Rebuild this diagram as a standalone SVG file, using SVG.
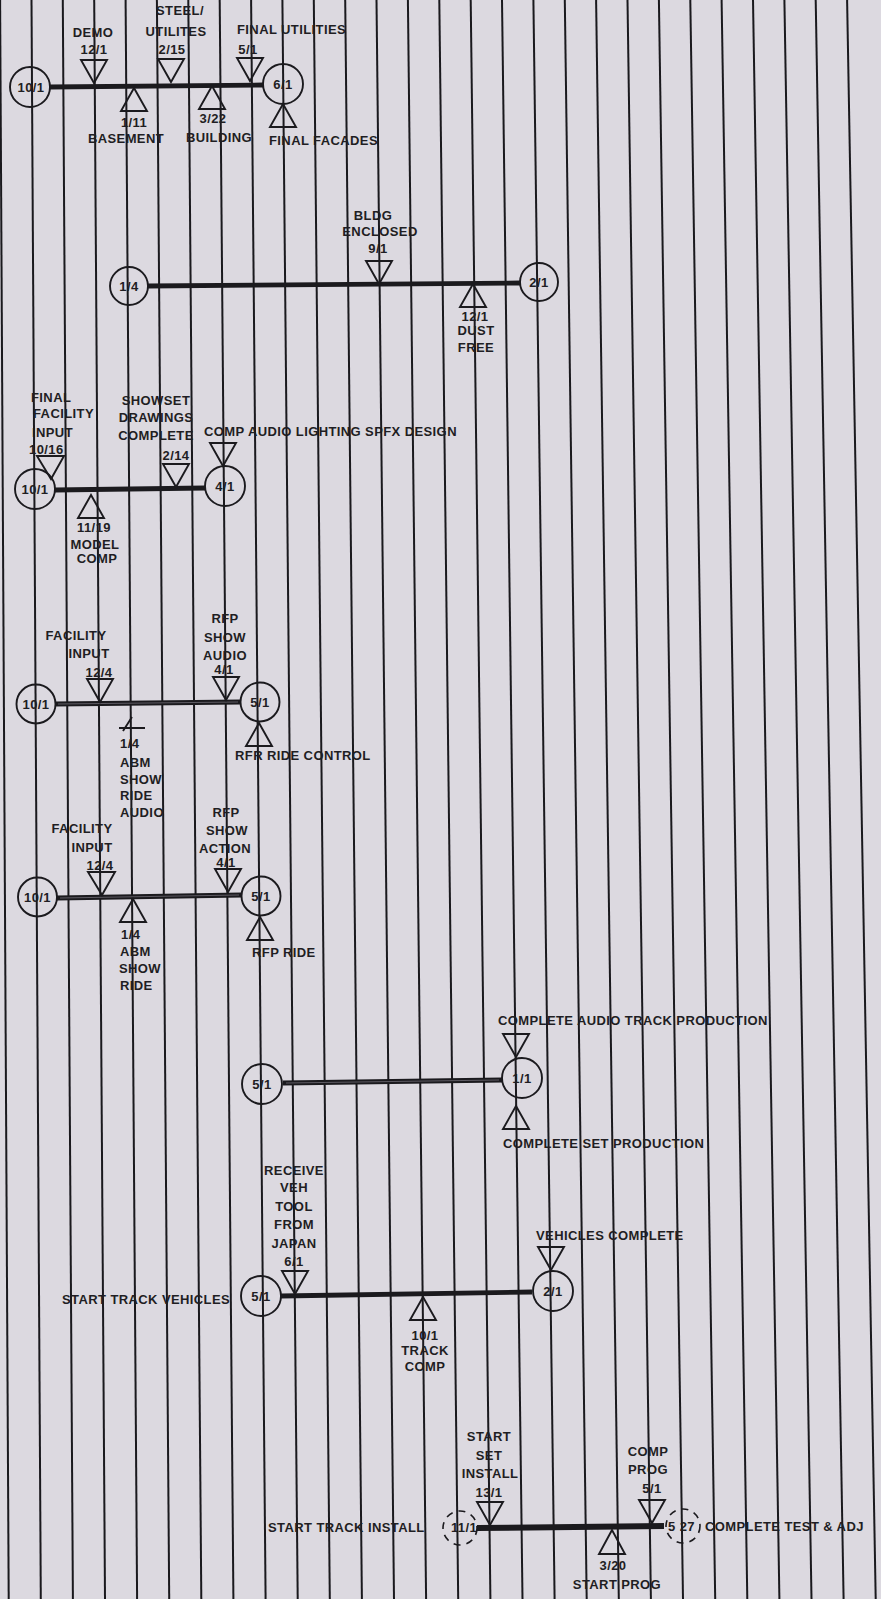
<svg xmlns="http://www.w3.org/2000/svg" width="881" height="1599" viewBox="0 0 881 1599">
  <style>
    .bg { fill: #dcd9e0; }
    .grid line { stroke: #1a191d; stroke-width: 2; }
    .bar { stroke: #1b1a1e; stroke-width: 4.8; stroke-linecap: butt; fill: none; }
    .bar.heavy { stroke-width: 6; }
    .core { stroke: #5d5a62; stroke-width: 1.2; fill: none; }
    .ev { fill: none; stroke: #1b1a1e; stroke-width: 1.9; }
    .ev.dash { stroke-dasharray: 7 6; stroke-width: 1.6; }
    .ms { fill: none; stroke: #1b1a1e; stroke-width: 1.9; stroke-linejoin: miter; }
    text { font-family: "Liberation Sans", Arial, sans-serif; font-size: 13px; font-weight: bold; letter-spacing: 0.4px; fill: #1f1e23; }
    .c { text-anchor: middle; }
  </style>

  <rect class="bg" x="0" y="0" width="881" height="1599"/>

  <!-- vertical ruling of the schedule sheet -->
  <g class="grid">
    <line x1="0.1" y1="0" x2="8.7" y2="1599"/>
    <line x1="31.5" y1="0" x2="40.8" y2="1599"/>
    <line x1="62.8" y1="0" x2="72.9" y2="1599"/>
    <line x1="94.2" y1="0" x2="105.0" y2="1599"/>
    <line x1="125.6" y1="0" x2="137.1" y2="1599"/>
    <line x1="156.9" y1="0" x2="169.2" y2="1599"/>
    <line x1="188.3" y1="0" x2="201.3" y2="1599"/>
    <line x1="219.7" y1="0" x2="233.4" y2="1599"/>
    <line x1="251.1" y1="0" x2="265.6" y2="1599"/>
    <line x1="282.4" y1="0" x2="297.7" y2="1599"/>
    <line x1="313.8" y1="0" x2="329.8" y2="1599"/>
    <line x1="345.2" y1="0" x2="361.9" y2="1599"/>
    <line x1="376.5" y1="0" x2="394.0" y2="1599"/>
    <line x1="407.9" y1="0" x2="426.1" y2="1599"/>
    <line x1="439.3" y1="0" x2="458.2" y2="1599"/>
    <line x1="470.7" y1="0" x2="490.4" y2="1599"/>
    <line x1="502.0" y1="0" x2="522.5" y2="1599"/>
    <line x1="533.4" y1="0" x2="554.6" y2="1599"/>
    <line x1="564.8" y1="0" x2="586.7" y2="1599"/>
    <line x1="596.1" y1="0" x2="618.8" y2="1599"/>
    <line x1="627.5" y1="0" x2="650.9" y2="1599"/>
    <line x1="658.9" y1="0" x2="683.0" y2="1599"/>
    <line x1="690.3" y1="0" x2="715.2" y2="1599"/>
    <line x1="721.6" y1="0" x2="747.3" y2="1599"/>
    <line x1="753.0" y1="0" x2="779.4" y2="1599"/>
    <line x1="784.4" y1="0" x2="811.5" y2="1599"/>
    <line x1="815.7" y1="0" x2="843.6" y2="1599"/>
    <line x1="847.1" y1="0" x2="875.7" y2="1599"/>
  </g>

  <!-- activity bars between start and finish events -->
  <g id="connectors">
    <line class="bar" x1="50" y1="87" x2="263" y2="85"/>
    <line class="bar" x1="148" y1="286" x2="520" y2="283"/>
    <line class="bar" x1="55" y1="490" x2="205" y2="488"/>
    <line class="bar" x1="55" y1="704" x2="241" y2="702"/>
    <line class="core" x1="58" y1="704" x2="238" y2="702"/>
    <line class="bar" x1="57" y1="898" x2="242" y2="895"/>
    <line class="core" x1="60" y1="898" x2="239" y2="895"/>
    <line class="bar" x1="283" y1="1083" x2="502" y2="1080"/>
    <line class="core" x1="286" y1="1083" x2="499" y2="1080"/>
    <line class="bar" x1="281" y1="1296" x2="532" y2="1292"/>
    <line class="bar heavy" x1="477" y1="1528" x2="664" y2="1526"/>
  </g>

  <!-- row 1: site / building -->
  <g id="ev-r1-start"><circle class="ev" cx="30" cy="87" r="20"/><text class="c" x="31" y="91.6">10/1</text></g>
  <g id="ev-r1-end"><circle class="ev" cx="283" cy="84" r="20"/><text class="c" x="283" y="88.6">6/1</text></g>
  <g id="ms-demo">
    <polygon class="ms" points="81,60 107,60 94,83"/>
    <text class="c" x="93" y="36.5">DEMO</text>
    <text class="c" x="94" y="53.5">12/1</text>
  </g>
  <g id="ms-steel">
    <polygon class="ms" points="158,59 184,59 171,82"/>
    <text class="c" x="180" y="14.5">STEEL/</text>
    <text class="c" x="176" y="35.5">UTILITES</text>
    <text class="c" x="172" y="53.5">2/15</text>
  </g>
  <g id="ms-final-util">
    <polygon class="ms" points="237,58 263,58 250,81"/>
    <text x="237" y="33.5">FINAL UTILITIES</text>
    <text class="c" x="248" y="53.5">5/1</text>
  </g>
  <g id="ms-basement">
    <polygon class="ms" points="134,88 121,111 147,111"/>
    <text class="c" x="134" y="126.5">1/11</text>
    <text class="c" x="126" y="142.5">BASEMENT</text>
  </g>
  <g id="ms-building">
    <polygon class="ms" points="212,86 199,109 225,109"/>
    <text class="c" x="213" y="122.5">3/22</text>
    <text class="c" x="219" y="141.5">BUILDING</text>
  </g>
  <g id="ms-facades">
    <polygon class="ms" points="283,104 270,127 296,127"/>
    <text x="269" y="144.5">FINAL FACADES</text>
  </g>

  <!-- row 2: enclosure -->
  <g id="ev-r2-start"><circle class="ev" cx="129" cy="286" r="19"/><text class="c" x="129" y="290.6">1/4</text></g>
  <g id="ev-r2-end"><circle class="ev" cx="539" cy="282" r="19"/><text class="c" x="539" y="286.6">2/1</text></g>
  <g id="ms-enclosed">
    <polygon class="ms" points="366,261 392,261 379,284"/>
    <text class="c" x="373" y="219.5">BLDG</text>
    <text class="c" x="380" y="235.5">ENCLOSED</text>
    <text class="c" x="378" y="252.5">9/1</text>
  </g>
  <g id="ms-dust">
    <polygon class="ms" points="473,284 460,307 486,307"/>
    <text class="c" x="475" y="320.5">12/1</text>
    <text class="c" x="476" y="335">DUST</text>
    <text class="c" x="476" y="351.5">FREE</text>
  </g>

  <!-- row 3: show design -->
  <g id="ev-r3-start"><circle class="ev" cx="35" cy="489" r="20"/><text class="c" x="35" y="493.6">10/1</text></g>
  <g id="ev-r3-end"><circle class="ev" cx="225" cy="486" r="20"/><text class="c" x="225" y="490.6">4/1</text></g>
  <g id="ms-final-facility">
    <polygon class="ms" points="37,456 64,456 51,479"/>
    <text x="31" y="401.5">FINAL</text>
    <text x="33" y="417.5">FACILITY</text>
    <text x="32" y="436.5">INPUT</text>
    <text x="29" y="453.5">10/16</text>
  </g>
  <g id="ms-showset">
    <polygon class="ms" points="163,464 189,464 176,487"/>
    <text class="c" x="156" y="404.5">SHOWSET</text>
    <text class="c" x="156" y="421.5">DRAWINGS</text>
    <text class="c" x="156" y="439.5">COMPLETE</text>
    <text class="c" x="176" y="459.5">2/14</text>
  </g>
  <g id="ms-comp-audio">
    <polygon class="ms" points="210,443 236,443 223,466"/>
    <text x="204" y="435.5">COMP AUDIO LIGHTING SPFX DESIGN</text>
  </g>
  <g id="ms-model">
    <polygon class="ms" points="91,495 78,518 104,518"/>
    <text class="c" x="94" y="531.5">11/19</text>
    <text class="c" x="95" y="548.5">MODEL</text>
    <text class="c" x="97" y="563">COMP</text>
  </g>

  <!-- row 4: ride audio -->
  <g id="ev-r4-start"><circle class="ev" cx="36" cy="704" r="19.5"/><text class="c" x="36" y="708.6">10/1</text></g>
  <g id="ev-r4-end"><circle class="ev" cx="260" cy="702" r="19.5"/><text class="c" x="260" y="706.6">5/1</text></g>
  <g id="ms-r4-facility">
    <polygon class="ms" points="87,679 113,679 100,702"/>
    <text class="c" x="76" y="639.5">FACILITY</text>
    <text class="c" x="89" y="657.5">INPUT</text>
    <text class="c" x="99" y="676.5">12/4</text>
  </g>
  <g id="ms-rfp-audio">
    <polygon class="ms" points="213,677 239,677 226,700"/>
    <text class="c" x="225" y="622.5">RFP</text>
    <text class="c" x="225" y="641.5">SHOW</text>
    <text class="c" x="225" y="659.5">AUDIO</text>
    <text class="c" x="224" y="673.5">4/1</text>
  </g>
  <g id="ms-abm-audio">
    <path class="ms" d="M123,731 L132,717 M119,728 L145,728" stroke-width="1.5"/>
    <text x="120" y="747.5">1/4</text>
    <text x="120" y="766.5">ABM</text>
    <text x="120" y="783.5">SHOW</text>
    <text x="120" y="799.5">RIDE</text>
    <text x="120" y="816.5">AUDIO</text>
  </g>
  <g id="ms-rfr-control">
    <polygon class="ms" points="259,723 246,746 272,746"/>
    <text x="235" y="759.5">RFR RIDE CONTROL</text>
  </g>

  <!-- row 5: ride action -->
  <g id="ev-r5-start"><circle class="ev" cx="37.5" cy="897" r="19.5"/><text class="c" x="37.5" y="901.6">10/1</text></g>
  <g id="ev-r5-end"><circle class="ev" cx="261" cy="896" r="19.5"/><text class="c" x="261" y="900.6">5/1</text></g>
  <g id="ms-r5-facility">
    <polygon class="ms" points="88,872 115,872 102,895"/>
    <text class="c" x="82" y="832.5">FACILITY</text>
    <text class="c" x="92" y="851.5">INPUT</text>
    <text class="c" x="100" y="869.5">12/4</text>
  </g>
  <g id="ms-rfp-action">
    <polygon class="ms" points="215,869 241,869 228,892"/>
    <text class="c" x="226" y="816.5">RFP</text>
    <text class="c" x="227" y="834.5">SHOW</text>
    <text class="c" x="225" y="852.5">ACTION</text>
    <text class="c" x="226" y="866.5">4/1</text>
  </g>
  <g id="ms-abm-ride">
    <polygon class="ms" points="133,899 120,922 146,922"/>
    <text x="121" y="938.5">1/4</text>
    <text x="120" y="955.5">ABM</text>
    <text x="119" y="972.5">SHOW</text>
    <text x="120" y="989.5">RIDE</text>
  </g>
  <g id="ms-rfp-ride">
    <polygon class="ms" points="260,917 247,940 273,940"/>
    <text x="252" y="956.5">RFP RIDE</text>
  </g>

  <!-- row 6: audio track / set production -->
  <g id="ev-r6-start"><circle class="ev" cx="262" cy="1084" r="20"/><text class="c" x="262" y="1088.6">5/1</text></g>
  <g id="ev-r6-end"><circle class="ev" cx="522" cy="1078" r="20"/><text class="c" x="522" y="1082.6">1/1</text></g>
  <g id="ms-audio-track">
    <polygon class="ms" points="503,1034 529,1034 516,1057"/>
    <text x="498" y="1024.5">COMPLETE AUDIO TRACK PRODUCTION</text>
  </g>
  <g id="ms-set-production">
    <polygon class="ms" points="516,1106 503,1129 529,1129"/>
    <text x="503" y="1147.5">COMPLETE SET PRODUCTION</text>
  </g>

  <!-- row 7: track vehicles -->
  <g id="ev-r7-start">
    <circle class="ev" cx="261" cy="1296" r="20"/><text class="c" x="261" y="1300.6">5/1</text>
    <text x="62" y="1303.5">START TRACK VEHICLES</text>
  </g>
  <g id="ev-r7-end"><circle class="ev" cx="553" cy="1291" r="20"/><text class="c" x="553" y="1295.6">2/1</text></g>
  <g id="ms-veh-tool">
    <polygon class="ms" points="282,1271 308,1271 295,1294"/>
    <text class="c" x="294" y="1174.5">RECEIVE</text>
    <text class="c" x="294" y="1191.5">VEH</text>
    <text class="c" x="294" y="1210.5">TOOL</text>
    <text class="c" x="294" y="1228.5">FROM</text>
    <text class="c" x="294" y="1247.5">JAPAN</text>
    <text class="c" x="294" y="1265.5">6/1</text>
  </g>
  <g id="ms-vehicles-complete">
    <polygon class="ms" points="538,1247 564,1247 551,1270"/>
    <text x="536" y="1239.5">VEHICLES COMPLETE</text>
  </g>
  <g id="ms-track-comp">
    <polygon class="ms" points="423,1297 410,1320 436,1320"/>
    <text class="c" x="425" y="1339.5">10/1</text>
    <text class="c" x="425" y="1354.5">TRACK</text>
    <text class="c" x="425" y="1371">COMP</text>
  </g>

  <!-- row 8: installation -->
  <g id="ev-r8-start">
    <circle class="ev dash" cx="460" cy="1528" r="17"/>
    <text class="c" x="464" y="1532">11/1</text>
    <text x="268" y="1531.5">START TRACK INSTALL</text>
  </g>
  <g id="ev-r8-end">
    <circle class="ev dash" cx="683" cy="1526" r="17"/>
    <text x="668" y="1531">5 27</text>
    <text x="705" y="1531">COMPLETE TEST &amp; ADJ</text>
  </g>
  <g id="ms-set-install">
    <polygon class="ms" points="477,1502 503,1502 490,1525"/>
    <text class="c" x="489" y="1440.5">START</text>
    <text class="c" x="489" y="1459.5">SET</text>
    <text class="c" x="490" y="1477.5">INSTALL</text>
    <text class="c" x="489" y="1496.5">13/1</text>
  </g>
  <g id="ms-comp-prog">
    <polygon class="ms" points="639,1500 665,1500 652,1523"/>
    <text class="c" x="648" y="1455.5">COMP</text>
    <text class="c" x="648" y="1473.5">PROG</text>
    <text class="c" x="652" y="1492.5">5/1</text>
  </g>
  <g id="ms-start-prog">
    <polygon class="ms" points="612,1530 599,1554 625,1554"/>
    <text class="c" x="613" y="1569.5">3/20</text>
    <text class="c" x="617" y="1588.5">START PROG</text>
  </g>
</svg>
